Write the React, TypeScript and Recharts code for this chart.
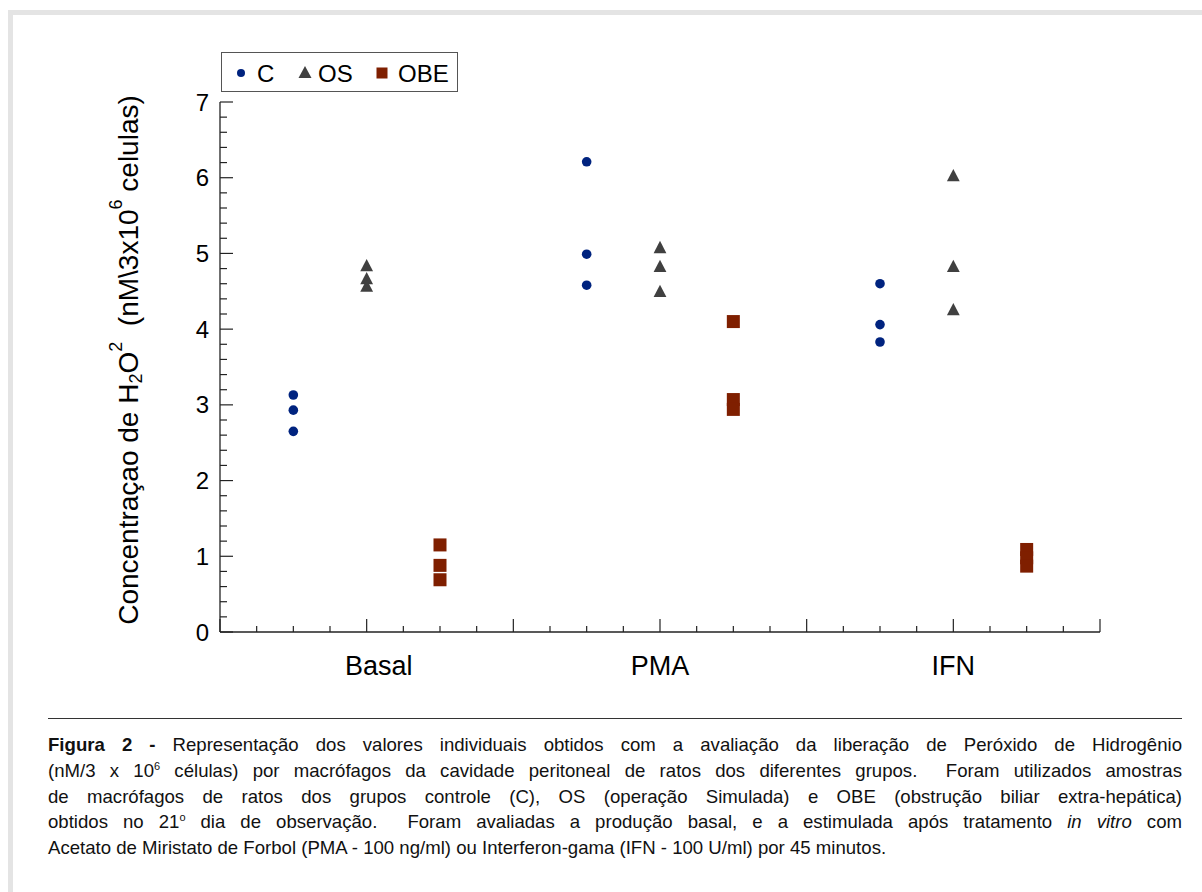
import React from "react"
import { Scatter, ScatterChart, XAxis, YAxis } from "recharts"

// categories and where each group sits on the 0..24 x scale
const CATEGORIES = ["Basal", "PMA", "IFN"]
const CATEGORY_X = [4, 12, 20]
const C_X = [2, 10, 18]
const OS_X = [4, 12, 20]
const OBE_X = [6, 14, 22]

// individual values per category (nM/3x10^6 cells)
const C_VALUES = [
  [3.13, 2.93, 2.65],
  [6.21, 4.99, 4.58],
  [4.6, 4.06, 3.83],
]
const OS_VALUES = [
  [4.84, 4.67, 4.57],
  [5.08, 4.83, 4.5],
  [6.03, 4.83, 4.26],
]
const OBE_VALUES = [
  [1.15, 0.88, 0.69],
  [4.1, 3.07, 2.94],
  [1.09, 0.98, 0.87],
]

const X_TICKS = [0, 1, 2, 3, 4, 5, 6, 7, 8, 9, 10, 11, 12, 13, 14, 15, 16, 17, 18, 19, 20, 21, 22, 23, 24]
const Y_MAJOR = [0, 1, 2, 3, 4, 5, 6, 7]
const Y_TICKS = Array.from({ length: 36 }, (_, i) => Math.round(i * 2) / 10)

const FONT = "'Liberation Sans', Arial, Helvetica, sans-serif"
const C_COLOR = "#00237f"
const OS_COLOR = "#404040"
const OBE_COLOR = "#7f1f00"
const AXIS = "#222"

const toPoints = (xs: number[], values: number[][]) =>
  values.flatMap((vals, i) => vals.map((y) => ({ x: xs[i], y })))

const cData = toPoints(C_X, C_VALUES)
const osData = toPoints(OS_X, OS_VALUES)
const obeData = toPoints(OBE_X, OBE_VALUES)

const Dot = (p: any) => <circle cx={p.cx} cy={p.cy} r={4.8} fill={C_COLOR} />
const Tri = (p: any) => (
  <polygon
    points={`${p.cx},${p.cy - 6.5} ${p.cx - 6.4},${p.cy + 5.8} ${p.cx + 6.4},${p.cy + 5.8}`}
    fill={OS_COLOR}
  />
)
const Sq = (p: any) => <rect x={p.cx - 6.5} y={p.cy - 6.5} width={13} height={13} fill={OBE_COLOR} />

const XTick = ({ x, y, payload }: any) => {
  const v = payload.value
  const major = v % 4 === 0
  const idx = CATEGORY_X.indexOf(v)
  // the original figure has "Basal" set a little right of its tick
  const dx = idx === 0 ? 12 : 0
  return (
    <g>
      <line x1={x} y1={y} x2={x} y2={y - (major ? 13 : 6)} stroke={AXIS} strokeWidth={1.2} />
      {idx >= 0 && (
        <text x={x + dx} y={y + 43} textAnchor="middle" fontSize={27} fontFamily={FONT} fill="#000">
          {CATEGORIES[idx]}
        </text>
      )}
    </g>
  )
}

const YTick = ({ x, y, payload }: any) => {
  const v = payload.value
  const major = Y_MAJOR.some((m) => Math.abs(m - v) < 1e-6)
  return (
    <g>
      <line x1={x} y1={y} x2={x + (major ? 13 : 7)} y2={y} stroke={AXIS} strokeWidth={1.2} />
      {major && (
        <text x={x - 11} y={y} textAnchor="end" dominantBaseline="central" fontSize={24} fontFamily={FONT} fill="#000">
          {Math.round(v)}
        </text>
      )}
    </g>
  )
}

const YLabel = () => (
  <text
    transform="translate(128, 360) rotate(-90)"
    textAnchor="middle"
    dominantBaseline="central"
    fontSize={28}
    fontFamily={FONT}
    fill="#000"
    style={{ whiteSpace: "pre" }}
  >
    <tspan>Concentraçao de H</tspan>
    <tspan dy={8} fontSize={18}>2</tspan>
    <tspan dy={-8}>O</tspan>
    <tspan dy={-12} fontSize={18}>2</tspan>
    <tspan dy={12}>{"  (nM\\3x10"}</tspan>
    <tspan dy={-12} fontSize={18}>6</tspan>
    <tspan dy={12}> celulas)</tspan>
  </text>
)

const Legend = () => (
  <div
    style={{
      position: "absolute",
      left: 221,
      top: 52,
      width: 235,
      height: 38,
      border: "1px solid #555",
      fontFamily: FONT,
      fontSize: 24,
    }}
  >
    <svg width={235} height={38} style={{ position: "absolute", left: 0, top: 0 }}>
      <circle cx={19} cy={20} r={4} fill={C_COLOR} />
      <text x={35} y={29} fontSize={24} fontFamily={FONT}>C</text>
      <polygon points="83,13 76.5,25 89.5,25" fill={OS_COLOR} />
      <text x={96} y={29} fontSize={24} fontFamily={FONT}>OS</text>
      <rect x={154.5} y={14.5} width={11} height={11} fill={OBE_COLOR} />
      <text x={176} y={29} fontSize={24} fontFamily={FONT}>OBE</text>
    </svg>
  </div>
)

const CAPTION_LINE: React.CSSProperties = {
  textAlign: "justify",
  textAlignLast: "justify",
  whiteSpace: "pre-wrap",
}

export default function App() {
  return (
    <div style={{ position: "absolute", left: 0, top: 0, width: 1202, height: 892, background: "#fff", overflow: "hidden" }}>
      <div
        style={{
          position: "absolute",
          left: 8,
          top: 10,
          width: 1194,
          height: 882,
          borderTop: "5px solid #e4e4e4",
          borderLeft: "5px solid #e4e4e4",
          boxSizing: "border-box",
        }}
      />
      <div style={{ position: "absolute", left: 0, top: 0 }}>
        <ScatterChart width={1202} height={700} margin={{ top: 102, right: 102, bottom: 8, left: 0 }}>
          <XAxis
            type="number"
            dataKey="x"
            domain={[0, 24]}
            ticks={X_TICKS}
            interval={0}
            height={60}
            tickSize={0}
            tickMargin={0}
            tickLine={false}
            axisLine={{ stroke: AXIS, strokeWidth: 1.3 }}
            tick={<XTick />}
          />
          <YAxis
            type="number"
            dataKey="y"
            domain={[0, 7]}
            ticks={Y_TICKS}
            interval={0}
            width={220}
            tickSize={0}
            tickMargin={0}
            tickLine={false}
            axisLine={{ stroke: AXIS, strokeWidth: 1.3 }}
            tick={<YTick />}
            label={{ content: () => <YLabel /> }}
          />
          <Scatter name="C" data={cData} shape={Dot} isAnimationActive={false} />
          <Scatter name="OS" data={osData} shape={Tri} isAnimationActive={false} />
          <Scatter name="OBE" data={obeData} shape={Sq} isAnimationActive={false} />
        </ScatterChart>
      </div>
      <Legend />
      <div style={{ position: "absolute", left: 48, top: 718, width: 1134, height: 1, background: "#333" }} />
      <div
        style={{
          position: "absolute",
          left: 48,
          top: 732,
          width: 1134,
          fontFamily: FONT,
          fontSize: 18.6,
          lineHeight: "25.75px",
          color: "#111",
        }}
      >
        <div style={CAPTION_LINE}>
          <b>Figura 2 -</b> Representação dos valores individuais obtidos com a avaliação da liberação de Peróxido de Hidrogênio
        </div>
        <div style={CAPTION_LINE}>
          (nM/3 x 10<sup style={{ fontSize: 11, lineHeight: 0 }}>6</sup> células) por macrófagos da cavidade peritoneal de ratos dos diferentes grupos.{"  "}Foram utilizados amostras
        </div>
        <div style={CAPTION_LINE}>
          de macrófagos de ratos dos grupos controle (C), OS (operação Simulada) e OBE (obstrução biliar extra-hepática)
        </div>
        <div style={CAPTION_LINE}>
          obtidos no 21<sup style={{ fontSize: 11, lineHeight: 0 }}>o</sup> dia de observação.{"  "}Foram avaliadas a produção basal, e a estimulada após tratamento <i>in vitro</i> com
        </div>
        <div>
          Acetato de Miristato de Forbol (PMA - 100 ng/ml) ou Interferon-gama (IFN - 100 U/ml) por 45 minutos.
        </div>
      </div>
    </div>
  )
}
